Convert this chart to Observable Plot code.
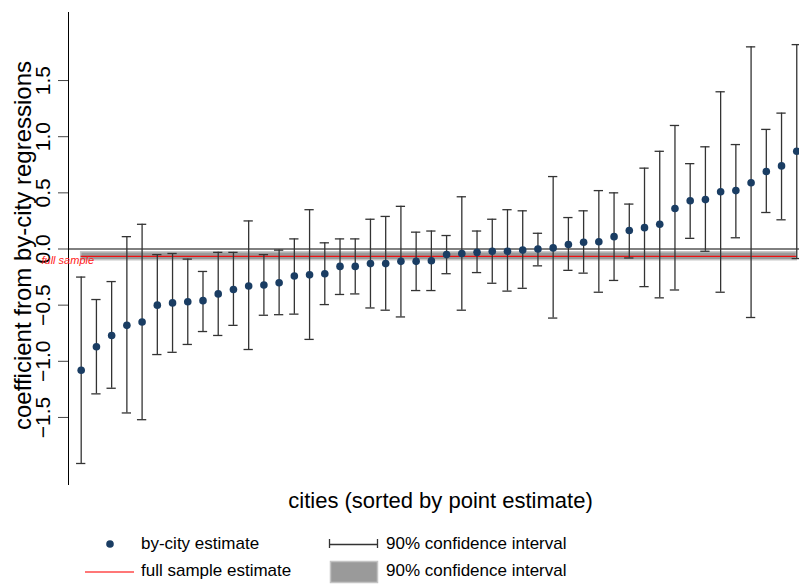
<!DOCTYPE html>
<html>
<head>
<meta charset="utf-8">
<script src="https://cdn.jsdelivr.net/npm/d3@7"></script>
<script src="https://cdn.jsdelivr.net/npm/@observablehq/plot@0.6"></script>
<style>
  html, body { margin: 0; padding: 0; background: white; overflow: hidden; }
  #wrap { position: relative; width: 799px; height: 585px; font-family: "Liberation Sans", Arial, sans-serif; }
  .lg { position: absolute; font-size: 17px; line-height: 20px; color: #000; white-space: nowrap; }
  .sw { position: absolute; }
</style>
</head>
<body>
<div id="wrap"></div>
<script>
// by-city point estimates (sorted), and 90% CI bounds
const cityEst = [-1.08, -0.87, -0.77, -0.68, -0.65, -0.50, -0.48, -0.47, -0.46, -0.40,
  -0.36, -0.33, -0.32, -0.30, -0.24, -0.23, -0.22, -0.155, -0.155, -0.13,
  -0.13, -0.11, -0.11, -0.105, -0.05, -0.04, -0.03, -0.02, -0.02, -0.01,
  0.00, 0.01, 0.04, 0.06, 0.065, 0.11, 0.165, 0.19, 0.22, 0.36,
  0.43, 0.44, 0.51, 0.52, 0.59, 0.69, 0.74, 0.87];
const cityLo = [-1.91, -1.29, -1.24, -1.46, -1.52, -0.94, -0.92, -0.85, -0.735, -0.77,
  -0.68, -0.895, -0.59, -0.585, -0.58, -0.805, -0.495, -0.405, -0.40, -0.525,
  -0.545, -0.605, -0.37, -0.37, -0.22, -0.545, -0.21, -0.305, -0.375, -0.35,
  -0.15, -0.615, -0.19, -0.215, -0.385, -0.28, -0.08, -0.335, -0.435, -0.365,
  0.095, -0.02, -0.385, 0.10, -0.61, 0.325, 0.26, -0.085];
const cityHi = [-0.25, -0.45, -0.29, 0.11, 0.22, -0.05, -0.04, -0.09, -0.20, -0.03,
  -0.03, 0.25, -0.05, -0.01, 0.09, 0.35, 0.055, 0.09, 0.09, 0.265,
  0.29, 0.38, 0.15, 0.16, 0.12, 0.465, 0.16, 0.265, 0.35, 0.34,
  0.14, 0.645, 0.28, 0.34, 0.52, 0.50, 0.40, 0.72, 0.87, 1.10,
  0.76, 0.91, 1.40, 0.93, 1.80, 1.065, 1.21, 1.82];
// full-sample estimate and its 90% CI
const fullEst = -0.065;
const fullLo = -0.10;
const fullHi = -0.03;
const yTicks = [-1.5, -1.0, -0.5, 0.0, 0.5, 1.0, 1.5];
const yTitle = "coefficient from by-city regressions";
const xTitle = "cities (sorted by point estimate)";
const fullLabel = "full sample";
const legendLabels = ["by-city estimate", "90% confidence interval", "full sample estimate", "90% confidence interval"];

const rows = cityEst.map((e, i) => ({i, est: e, lo: cityLo[i], hi: cityHi[i]}));
const n = rows.length;
const xDomain = [-0.834, n - 1 + 0.18];
const navy = "#1a3d63";
const barColor = "#333";
const fmt = d3.format(".1f");

const plot = Plot.plot({
  width: 799,
  height: 520,
  marginTop: 12,
  marginBottom: 35,
  marginLeft: 68,
  marginRight: 0,
  style: {fontFamily: "'Liberation Sans', Arial, sans-serif", background: "white", overflow: "hidden"},
  x: {domain: xDomain, axis: null},
  y: {domain: [-2.106, 2.106], axis: null},
  marks: [
    Plot.rect([{lo: fullLo, hi: fullHi}], {x1: () => 0, x2: () => n - 1, y1: "lo", y2: "hi", fill: "#9a9a9a", stroke: "#c4c4c4", strokeWidth: 1.5}),
    Plot.ruleY([fullEst], {x1: () => 0, x2: () => n - 1, stroke: "#ee1111", strokeWidth: 1.2}),
    Plot.ruleY([0], {stroke: "#000", strokeWidth: 1}),
    Plot.ruleX(rows, {x: "i", y1: "lo", y2: "hi", stroke: barColor, strokeWidth: 1.3}),
    Plot.ruleY(rows, {y: "hi", x1: d => d.i - 0.305, x2: d => d.i + 0.305, stroke: barColor, strokeWidth: 1.3}),
    Plot.ruleY(rows, {y: "lo", x1: d => d.i - 0.305, x2: d => d.i + 0.305, stroke: barColor, strokeWidth: 1.3}),
    Plot.dot(rows, {x: "i", y: "est", r: 3.8, fill: navy, stroke: "none"}),
    Plot.ruleX([xDomain[0]], {stroke: "#000", strokeWidth: 1}),
    Plot.axisY({ticks: yTicks, tickSize: 10, tickFormat: () => "", stroke: "#444", label: null}),
    Plot.text(yTicks, {y: d => d, text: d => fmt(d), frameAnchor: "left", textAnchor: "middle", lineAnchor: "middle", dx: -25, rotate: -90, fontSize: 21, fill: "#000"}),
    Plot.text([yTitle], {frameAnchor: "left", textAnchor: "middle", lineAnchor: "middle", dx: -45.5, dy: -3.5, rotate: -90, fontSize: 24, fill: "#000"}),
    Plot.text([xTitle], {frameAnchor: "bottom", textAnchor: "middle", lineAnchor: "middle", dx: 6.5, dy: 15, fontSize: 22, fill: "#000"}),
    Plot.text([fullLabel], {y: () => fullEst, frameAnchor: "left", textAnchor: "start", lineAnchor: "middle", dx: -27, dy: 3.7, fontSize: 11, fontStyle: "italic", fill: "#ff1a1a"})
  ]
});

const wrap = document.getElementById("wrap");
wrap.appendChild(plot);

// legend below the plot
const svgNS = "http://www.w3.org/2000/svg";
function swatch(left, top, w, h, draw) {
  const s = document.createElementNS(svgNS, "svg");
  s.setAttribute("class", "sw");
  s.setAttribute("width", w);
  s.setAttribute("height", h);
  s.style.left = left + "px";
  s.style.top = top + "px";
  s.innerHTML = draw;
  wrap.appendChild(s);
}
function label(left, top, txt) {
  const d = document.createElement("div");
  d.className = "lg";
  d.style.left = left + "px";
  d.style.top = top + "px";
  d.textContent = txt;
  wrap.appendChild(d);
}
swatch(100, 534, 20, 20, `<circle cx="10" cy="10" r="3.8" fill="${navy}"/>`);
label(141, 534, legendLabels[0]);
swatch(325, 534, 60, 20, `<line x1="4.5" y1="10.5" x2="52.5" y2="10.5" stroke="${barColor}" stroke-width="1.3"/><line x1="4.5" y1="5" x2="4.5" y2="14" stroke="${barColor}" stroke-width="1.3"/><line x1="52.5" y1="5" x2="52.5" y2="14" stroke="${barColor}" stroke-width="1.3"/>`);
label(386, 534, legendLabels[1]);
swatch(80, 562, 60, 20, `<line x1="5" y1="10" x2="54" y2="10" stroke="#ff4a4a" stroke-width="1.5"/>`);
label(141, 561, legendLabels[2]);
swatch(325, 557, 60, 30, `<rect x="5.5" y="4.5" width="47" height="21" fill="#9a9a9a" stroke="#c4c4c4" stroke-width="1.5"/>`);
label(386, 561, legendLabels[3]);
</script>
</body>
</html>
